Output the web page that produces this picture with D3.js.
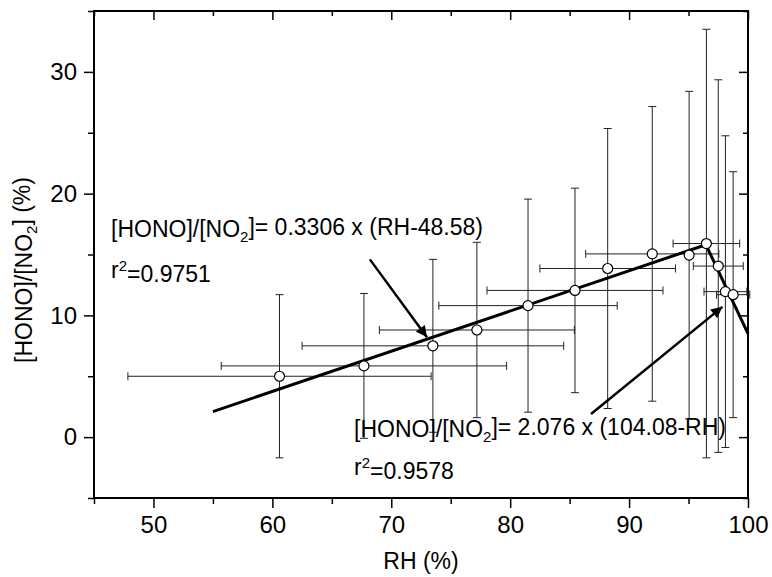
<!DOCTYPE html>
<html>
<head>
<meta charset="utf-8">
<script src="https://cdn.jsdelivr.net/npm/d3@7"></script>
<style>
  body { margin: 0; background: #fff; }
  text { font-family: Arial, "Liberation Sans", sans-serif; fill: #000; }
</style>
</head>
<body>
<div id="chart"></div>
<script>
// measured points: RH (%), [HONO]/[NO2] (%), and their error bars
var rh       = [60.6, 67.7, 73.5, 77.2, 81.5, 85.45, 88.2, 91.95, 95.05, 96.5, 97.5, 98.1, 98.75];
var ratio    = [5.0, 5.85, 7.5, 8.8, 10.8, 12.05, 13.85, 15.05, 14.95, 15.9, 14.05, 11.95, 11.7];
var rhErr    = [12.75, 12.0, 11.0, 8.2, 7.5, 7.4, 5.7, 5.6, 0, 2.8, 2.1, 1.8, 1.4];
var ratioErr = [6.7, 5.95, 7.1, 7.2, 8.75, 8.4, 11.5, 12.1, 13.45, 17.6, 15.3, 12.8, 10.1];

// fitted lines (end points)
var fitRise = [[55, 2.1], [96.46, 15.8]];
var fitFall = [[96.46, 15.8], [100, 8.5]];

// annotation arrows [from, to]
var arrows = [
    [[68.2, 14.6], [73.0, 8.2]],
    [[86.8, 1.9], [97.85, 10.7]]
];

var xMajor = [50, 60, 70, 80, 90, 100];
var xMinor = [45, 55, 65, 75, 85, 95];
var yMajor = [0, 10, 20, 30];
var yMinor = [-5, 5, 15, 25, 35];

var width = 772, height = 577;

var svg = d3.select("#chart").append("svg")
    .attr("width", width)
    .attr("height", height);

var x = d3.scaleLinear().domain([45, 100]).range([94, 748]);
var y = d3.scaleLinear().domain([-5, 35]).range([498, 11]);

var defs = svg.append("defs");
defs.append("marker")
    .attr("id", "head")
    .attr("viewBox", "0 0 10 10")
    .attr("refX", 10).attr("refY", 5)
    .attr("markerWidth", 6).attr("markerHeight", 4.5)
    .attr("markerUnits", "strokeWidth")
    .attr("orient", "auto")
    .append("path")
    .attr("d", "M0,0 L10,5 L0,10 z")
    .attr("fill", "#000");

function styleAxis(g) {
    g.select(".domain").remove();
    g.selectAll(".tick line").attr("stroke", "#000").attr("stroke-width", 1.5);
    g.selectAll(".tick text").style("font-size", "24px");
}

// bottom
svg.append("g").attr("transform", "translate(0,498)")
    .call(d3.axisBottom(x).tickValues(xMajor).tickSize(10).tickPadding(8).tickFormat(d3.format("d")))
    .call(styleAxis);
svg.append("g").attr("transform", "translate(0,498)")
    .call(d3.axisBottom(x).tickValues(xMinor).tickSize(6).tickFormat(""))
    .call(styleAxis);
// top (inward)
svg.append("g").attr("transform", "translate(0,11)")
    .call(d3.axisTop(x).tickValues(xMajor).tickSize(-9).tickFormat(""))
    .call(styleAxis);
svg.append("g").attr("transform", "translate(0,11)")
    .call(d3.axisTop(x).tickValues(xMinor).tickSize(-5).tickFormat(""))
    .call(styleAxis);
// left
svg.append("g").attr("transform", "translate(94,0)")
    .call(d3.axisLeft(y).tickValues(yMajor).tickSize(10).tickPadding(7).tickFormat(d3.format("d")))
    .call(styleAxis);
svg.append("g").attr("transform", "translate(94,0)")
    .call(d3.axisLeft(y).tickValues(yMinor).tickSize(6).tickFormat(""))
    .call(styleAxis);
// right (inward)
svg.append("g").attr("transform", "translate(748,0)")
    .call(d3.axisRight(y).tickValues(yMajor).tickSize(-9).tickFormat(""))
    .call(styleAxis);
svg.append("g").attr("transform", "translate(748,0)")
    .call(d3.axisRight(y).tickValues(yMinor).tickSize(-5).tickFormat(""))
    .call(styleAxis);

// frame
svg.append("rect")
    .attr("x", x(45)).attr("y", y(35))
    .attr("width", x(100) - x(45)).attr("height", y(-5) - y(35))
    .attr("fill", "none").attr("stroke", "#000").attr("stroke-width", 2);

// error bars
var pts = rh.map(function (v, i) {
    return { x: v, y: ratio[i], ex: rhErr[i], ey: ratioErr[i] };
});
var eb = svg.append("g").attr("stroke", "#222").attr("stroke-width", 1).attr("fill", "none");
var cap = 4;
pts.forEach(function (d) {
    var cx = x(d.x), cy = y(d.y);
    var top = y(d.y + d.ey), bot = y(d.y - d.ey);
    eb.append("line").attr("x1", cx).attr("x2", cx).attr("y1", top).attr("y2", bot);
    eb.append("line").attr("x1", cx - cap).attr("x2", cx + cap).attr("y1", top).attr("y2", top);
    eb.append("line").attr("x1", cx - cap).attr("x2", cx + cap).attr("y1", bot).attr("y2", bot);
    if (d.ex > 0) {
        var l = x(d.x - d.ex), r = x(d.x + d.ex);
        eb.append("line").attr("x1", l).attr("x2", r).attr("y1", cy).attr("y2", cy);
        eb.append("line").attr("x1", l).attr("x2", l).attr("y1", cy - cap).attr("y2", cy + cap);
        eb.append("line").attr("x1", r).attr("x2", r).attr("y1", cy - cap).attr("y2", cy + cap);
    }
});

// fit lines
var line = d3.line().x(function (d) { return x(d[0]); }).y(function (d) { return y(d[1]); });
[fitRise, fitFall].forEach(function (f) {
    svg.append("path").attr("d", line(f))
        .attr("fill", "none").attr("stroke", "#000").attr("stroke-width", 3);
});

// points
svg.append("g").selectAll("circle")
    .data(pts)
    .enter().append("circle")
    .attr("cx", function (d) { return x(d.x); })
    .attr("cy", function (d) { return y(d.y); })
    .attr("r", 5)
    .attr("fill", "#fff")
    .attr("stroke", "#000")
    .attr("stroke-width", 1.2);

// arrows
arrows.forEach(function (a) {
    svg.append("line")
        .attr("x1", x(a[0][0])).attr("y1", y(a[0][1]))
        .attr("x2", x(a[1][0])).attr("y2", y(a[1][1]))
        .attr("stroke", "#000").attr("stroke-width", 2.5)
        .attr("marker-end", "url(#head)");
});

// annotations
function equation(px, py, coef) {
    var t = svg.append("text").attr("x", px).attr("y", py).style("font-size", "23px");
    t.append("tspan").text("[HONO]/[NO");
    t.append("tspan").attr("dy", "0.3em").style("font-size", "15px").text("2");
    t.append("tspan").attr("dy", "-0.3em").text("]= " + coef);
}
function rsq(px, py, val) {
    var t = svg.append("text").attr("x", px).attr("y", py).style("font-size", "23px");
    t.append("tspan").text("r");
    t.append("tspan").attr("dy", "-0.45em").style("font-size", "15px").text("2");
    t.append("tspan").attr("dy", "0.45em").text("=" + val);
}
equation(111, 237, "0.3306 x (RH-48.58)");
rsq(111, 278, "0.9751");
equation(354, 437, "2.076 x (104.08-RH)");
rsq(354, 475, "0.9578");

// axis titles
svg.append("text")
    .attr("x", 421).attr("y", 569)
    .attr("text-anchor", "middle")
    .style("font-size", "23px")
    .text("RH (%)");

var yt = svg.append("text")
    .attr("transform", "translate(32,270)rotate(-90)")
    .attr("text-anchor", "middle")
    .style("font-size", "23px");
yt.append("tspan").text("[HONO]/[NO");
yt.append("tspan").attr("dy", "0.3em").style("font-size", "15px").text("2");
yt.append("tspan").attr("dy", "-0.3em").text("] (%)");
</script>
</body>
</html>
